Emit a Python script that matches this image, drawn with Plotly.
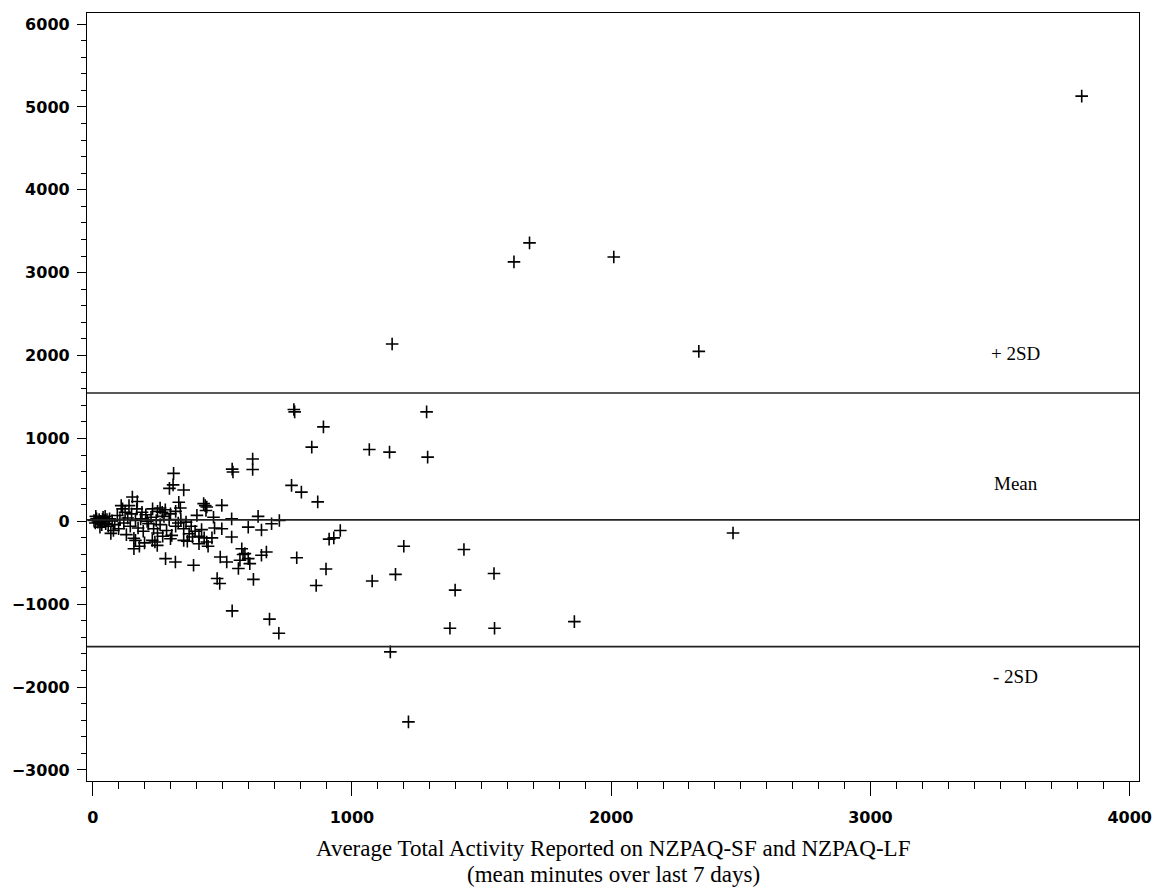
import plotly.graph_objects as go

# Bland-Altman style data: average of the two questionnaires (x) vs difference (y)
avg_minutes = [
    3815, 1625, 1685, 2010, 2338, 1155,
    776, 779, 1288, 890, 845, 1067, 1145, 1292, 767, 805, 868, 617, 617, 538, 541, 312, 310, 296, 351,
    2470, 955, 930, 912, 1200, 1432, 1548, 1168, 1078, 900, 862, 1398, 1858, 1378, 1550, 682, 718, 538,
    1148, 1218, 787,
    720, 690, 670, 651, 651, 600, 638, 620, 606, 587, 575, 568, 562, 517, 492, 480, 490, 498, 536, 536,
    498, 466, 437, 428, 440, 600, 580,
    153, 172, 110, 115, 125, 332, 338, 434, 231, 250, 268, 402, 380, 395, 410, 372, 351, 351, 389, 319,
    281, 249, 240, 230, 159, 159, 130, 70, 80,
    5, 10, 15, 20, 25, 30, 35, 40, 45, 50, 55, 60, 12, 28, 38, 48, 65, 75, 85, 95, 100, 105, 120, 135,
    145, 165, 175, 185, 195, 205, 215, 225, 235, 245, 260, 275, 285, 295, 305, 320, 330, 340, 360, 420,
    430, 440, 445, 410, 385, 365, 300, 270, 200, 180, 165, 210, 190, 170, 150, 140, 260, 280, 300, 320,
    250, 460, 470,
]
diff_minutes = [
    5130, 3130, 3360, 3190, 2050, 2140,
    1350, 1320, 1320, 1140, 895, 867, 835, 775, 434, 352, 235, 752, 625, 630, 595, 578, 440, 398, 378,
    -140, -110, -200, -215, -300, -340, -630, -640, -720, -575, -775, -830, -1210, -1290, -1290, -1180,
    -1350, -1080, -1575, -2420, -440,
    10, -30, -370, -410, -105, -70, 60, -700, -510, -390, -330, -470, -570, -490, -430, -690, -750, -90,
    -190, 30, 193, 50, 130, 213, 172, -450, -400,
    293, 240, 190, 150, 110, 230, 160, 190, 150, 120, 110, 72, -60, -120, -180, -150, -90, -230, -530,
    -490, -450, -290, -250, -230, -205, -330, -160, -145, -110,
    10, -20, 30, -10, 20, 0, -40, 50, 10, -30, 20, -60, 60, -70, 25, 60, 30, 5, -40, 70, -90, 20, -20,
    40, -60, 10, -80, 30, -120, 80, -30, 50, -90, 10, -40, 60, -110, 20, -170, -60, -20, 20, -10, -100,
    -200, -250, -300, -270, -190, -240, -210, -180, -260, -300, -230, 0, 110, 150, 90, 190, 160, 140, 90,
    120, -140, -200, -80,
]

mean_diff = 18
upper_limit = 1548
lower_limit = -1512
line_labels = ["+ 2SD", "Mean", "- 2SD"]
label_x = 3560
label_y = [2024, 458, -1870]

x_tick_vals = [0, 1000, 2000, 3000, 4000]
y_tick_vals = [-3000, -2000, -1000, 0, 1000, 2000, 3000, 4000, 5000, 6000]

fig = go.Figure()
fig.add_trace(go.Scatter(
    x=avg_minutes, y=diff_minutes, mode="markers",
    marker=dict(symbol="cross-thin", size=9, color="black",
                line=dict(color="black", width=1.6)),
    showlegend=False, hoverinfo="x+y",
))

for yv in [upper_limit, mean_diff, lower_limit]:
    fig.add_shape(type="line", xref="paper", x0=0, x1=1, yref="y", y0=yv, y1=yv,
                  line=dict(color="#222222", width=1.6))

for txt, yv in zip(line_labels, label_y):
    fig.add_annotation(x=label_x, y=yv, xref="x", yref="y", text=txt, showarrow=False,
                       font=dict(family="Liberation Serif", size=19, color="black"))

fig.add_annotation(x=0.5, y=-(849 - 781) / 769, xref="paper", yref="paper",
                   text="Average Total Activity Reported on NZPAQ-SF and NZPAQ-LF",
                   showarrow=False, yanchor="middle",
                   font=dict(family="Liberation Serif", size=23, color="black"))
fig.add_annotation(x=0.5, y=-(875 - 781) / 769, xref="paper", yref="paper",
                   text="(mean minutes over last 7 days)",
                   showarrow=False, yanchor="middle",
                   font=dict(family="Liberation Serif", size=23, color="black"))

fig.update_layout(
    width=1164, height=890,
    margin=dict(l=86, r=19, t=12, b=109),
    paper_bgcolor="white", plot_bgcolor="white",
    xaxis=dict(range=[-22, 4036], tickvals=x_tick_vals, showgrid=False, zeroline=False,
               showline=True, mirror=True, linecolor="black", linewidth=1.3,
               ticks="outside", ticklen=14, tickwidth=1.3, tickcolor="black",
               ticklabelstandoff=8,
               minor=dict(dtick=100, ticks="outside", ticklen=7, tickwidth=1.3, tickcolor="black"),
               tickfont=dict(family="DejaVu Sans", size=16, color="black", weight="bold")),
    yaxis=dict(range=[-3133, 6133], tickvals=y_tick_vals, showgrid=False, zeroline=False,
               showline=True, mirror=True, linecolor="black", linewidth=1.3,
               ticks="outside", ticklen=9, tickwidth=1.3, tickcolor="black",
               ticklabelstandoff=4,
               minor=dict(dtick=200, ticks="outside", ticklen=5, tickwidth=1.3, tickcolor="black"),
               tickfont=dict(family="DejaVu Sans", size=16, color="black", weight="bold")),
)

fig.write_html("out.html")
